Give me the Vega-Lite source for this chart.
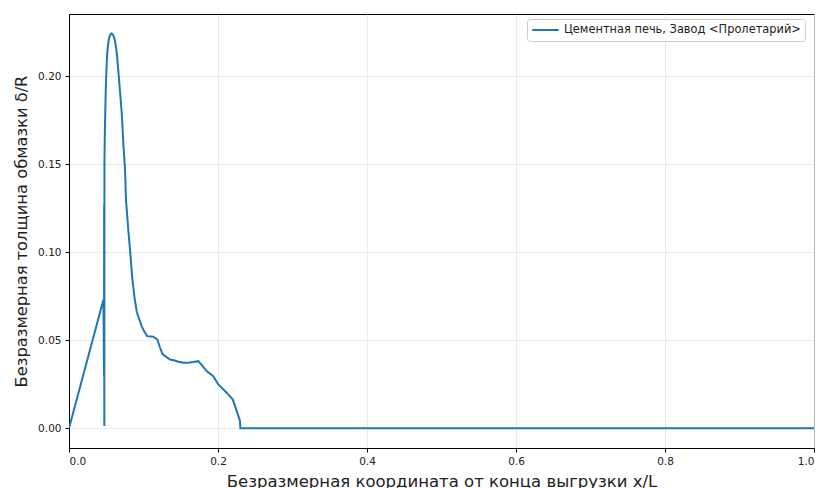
{
  "$schema": "https://vega.github.io/schema/vega-lite/v6.json",
  "width": 745,
  "height": 434,
  "autosize": "none",
  "padding": {"left": 69, "top": 14, "right": 7, "bottom": 40},
  "background": "white",
  "config": {
    "font": "DejaVu Sans",
    "view": {"stroke": "black", "strokeWidth": 1},
    "axis": {
      "gridColor": "#e6e6e6",
      "gridWidth": 0.8,
      "domainColor": "black",
      "tickColor": "black",
      "tickSize": 4,
      "labelFontSize": 10.5,
      "labelColor": "#222",
      "labelPadding": 4,
      "titleFontWeight": "normal",
      "titleColor": "#222",
      "labelFont": "DejaVu Sans",
      "titleFont": "DejaVu Sans"
    }
  },
  "data": {
    "values": [
      {"o": 1, "x": 0.0, "y": 0.0},
      {"o": 2, "x": 0.0462, "y": 0.073},
      {"o": 3, "x": 0.0470, "y": 0.030},
      {"o": 4, "x": 0.0472, "y": 0.127},
      {"o": 5, "x": 0.0474, "y": 0.0013},
      {"o": 6, "x": 0.0476, "y": 0.152},
      {"o": 7, "x": 0.0482, "y": 0.170},
      {"o": 8, "x": 0.0492, "y": 0.190},
      {"o": 9, "x": 0.0502, "y": 0.203},
      {"o": 10, "x": 0.0513, "y": 0.213},
      {"o": 11, "x": 0.0525, "y": 0.218},
      {"o": 12, "x": 0.0537, "y": 0.2215},
      {"o": 13, "x": 0.0555, "y": 0.2235},
      {"o": 14, "x": 0.0573, "y": 0.2242},
      {"o": 15, "x": 0.0595, "y": 0.2230},
      {"o": 16, "x": 0.0617, "y": 0.2203},
      {"o": 17, "x": 0.0640, "y": 0.2135},
      {"o": 18, "x": 0.0662, "y": 0.203},
      {"o": 19, "x": 0.0685, "y": 0.191},
      {"o": 20, "x": 0.0708, "y": 0.179},
      {"o": 21, "x": 0.0729, "y": 0.162},
      {"o": 22, "x": 0.0752, "y": 0.147},
      {"o": 23, "x": 0.0765, "y": 0.1297},
      {"o": 24, "x": 0.0795, "y": 0.113},
      {"o": 25, "x": 0.0819, "y": 0.1014},
      {"o": 26, "x": 0.0850, "y": 0.085},
      {"o": 27, "x": 0.0880, "y": 0.074},
      {"o": 28, "x": 0.0910, "y": 0.066},
      {"o": 29, "x": 0.0975, "y": 0.058},
      {"o": 30, "x": 0.1010, "y": 0.055},
      {"o": 31, "x": 0.1050, "y": 0.0523},
      {"o": 32, "x": 0.1130, "y": 0.0520},
      {"o": 33, "x": 0.1186, "y": 0.0504},
      {"o": 34, "x": 0.1220, "y": 0.046},
      {"o": 35, "x": 0.1257, "y": 0.042},
      {"o": 36, "x": 0.1356, "y": 0.039},
      {"o": 37, "x": 0.1420, "y": 0.0385},
      {"o": 38, "x": 0.1470, "y": 0.0378},
      {"o": 39, "x": 0.1535, "y": 0.0372},
      {"o": 40, "x": 0.1600, "y": 0.0372},
      {"o": 41, "x": 0.1669, "y": 0.0376},
      {"o": 42, "x": 0.1736, "y": 0.0381},
      {"o": 43, "x": 0.1780, "y": 0.036},
      {"o": 44, "x": 0.1848, "y": 0.0325},
      {"o": 45, "x": 0.1937, "y": 0.0296},
      {"o": 46, "x": 0.2004, "y": 0.0249},
      {"o": 47, "x": 0.2116, "y": 0.0202},
      {"o": 48, "x": 0.2197, "y": 0.0164},
      {"o": 49, "x": 0.2259, "y": 0.0089},
      {"o": 50, "x": 0.2295, "y": 0.0042},
      {"o": 51, "x": 0.2300, "y": 0.0},
      {"o": 52, "x": 1.0, "y": 0.0}
    ]
  },
  "transform": [{"calculate": "'Цементная печь, Завод <Пролетарий>'", "as": "s"}],
  "mark": {"type": "line", "strokeWidth": 2, "clip": true},
  "encoding": {
    "x": {
      "field": "x", "type": "quantitative",
      "scale": {"domain": [0, 1], "nice": false, "zero": false},
      "axis": {"values": [0, 0.2, 0.4, 0.6, 0.8, 1.0], "format": ".1f", "title": "Безразмерная координата от конца выгрузки x/L", "titlePadding": 7, "titleFontSize": 16.5}
    },
    "y": {
      "field": "y", "type": "quantitative",
      "scale": {"domain": [-0.0112, 0.2352], "nice": false, "zero": false},
      "axis": {"values": [0, 0.05, 0.1, 0.15, 0.2], "format": ".2f", "title": "Безразмерная толщина обмазки δ/R", "titlePadding": 8, "titleFontSize": 16.3}
    },
    "order": {"field": "o", "type": "quantitative"},
    "color": {
      "field": "s", "type": "nominal",
      "scale": {"range": ["#1f77b4"]},
      "legend": {
        "title": null,
        "orient": "none",
        "legendX": 458,
        "legendY": 5,
        "symbolType": "stroke",
        "symbolSize": 700,
        "symbolStrokeWidth": 2,
        "clipHeight": 14,
        "labelFontSize": 11.4,
        "labelLimit": 0,
        "labelColor": "#222",
        "labelFont": "DejaVu Sans",
        "padding": 4,
        "strokeColor": "#cccccc",
        "cornerRadius": 3,
        "fillColor": "white"
      }
    }
  }
}
